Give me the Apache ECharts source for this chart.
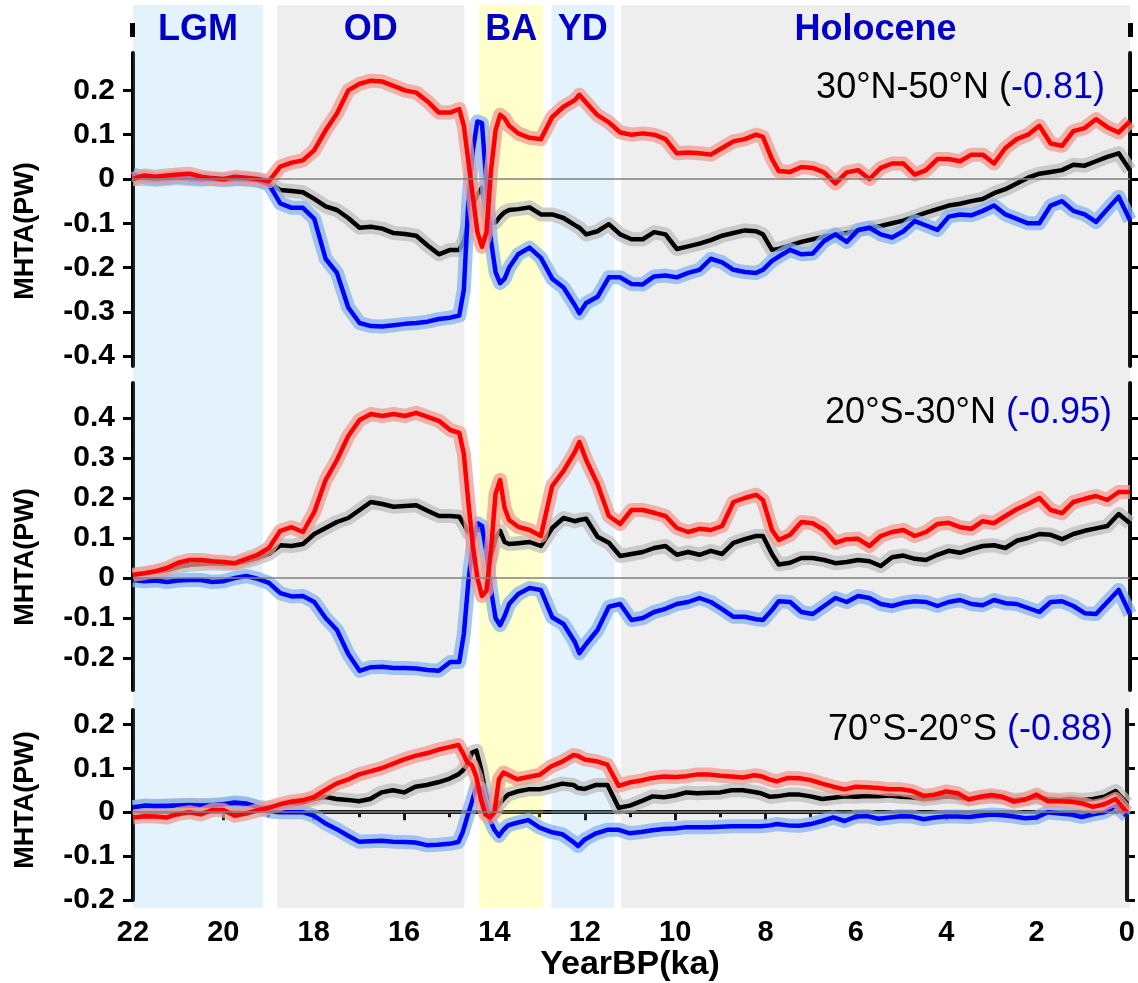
<!DOCTYPE html>
<html>
<head>
<meta charset="utf-8">
<script src="https://cdn.jsdelivr.net/npm/echarts@6/dist/echarts.min.js"></script>
<style>
  html, body { margin: 0; padding: 0; background: #fff; }
  #chart { width: 1138px; height: 983px; }
</style>
</head>
<body>
<div id="chart"></div>
<script>
// ages (ka BP), shared by every curve
var ages = [
  22, 21.75, 21.5, 21.25, 21, 20.75, 20.5, 20.25, 20, 19.75,
  19.5, 19.25, 19, 18.75, 18.5, 18.25, 18, 17.75, 17.5, 17.25,
  17, 16.75, 16.5, 16.25, 16, 15.75, 15.5, 15.25, 15, 14.8,
  14.7, 14.6, 14.5, 14.4, 14.3, 14.2, 14.1, 14, 13.9, 13.8,
  13.7, 13.5, 13.25, 13, 12.75, 12.5, 12.25, 12.15, 12, 11.75, 11.5,
  11.25, 11, 10.75, 10.5, 10.25, 10, 9.75, 9.5, 9.25, 9,
  8.75, 8.5, 8.25, 8.1, 7.9, 7.75, 7.5, 7.25, 7, 6.75,
  6.5, 6.25, 6, 5.75, 5.5, 5.25, 5, 4.75, 4.5, 4.25,
  4, 3.75, 3.5, 3.25, 3, 2.75, 2.5, 2.25, 2, 1.75,
  1.5, 1.25, 1, 0.75, 0.5, 0.25, 0
];

// 30N-50N
var p1Red = [
  0.0, 0.008, 0.005, 0.008, 0.01, 0.012, 0.005, 0.002, 0.0, 0.005,
  0.003, 0.0, -0.005, 0.028, 0.037, 0.042, 0.065, 0.11, 0.148, 0.2,
  0.215, 0.222, 0.22, 0.21, 0.2, 0.195, 0.175, 0.15, 0.15, 0.158,
  0.12, 0.04, -0.04, -0.12, -0.153, -0.12, 0.02, 0.11, 0.145, 0.137,
  0.12, 0.103, 0.093, 0.09, 0.14, 0.163, 0.178, 0.19, 0.172, 0.144, 0.128,
  0.105, 0.1, 0.103, 0.1, 0.09, 0.058, 0.06, 0.058, 0.055, 0.07,
  0.085, 0.09, 0.1, 0.095, 0.045, 0.018, 0.016, 0.027, 0.025, 0.015,
  -0.01, 0.015, 0.02, 0.0, 0.025, 0.035, 0.035, 0.01, 0.02, 0.045,
  0.045, 0.04, 0.055, 0.055, 0.035, 0.07, 0.09, 0.1, 0.12, 0.08,
  0.075, 0.108, 0.115, 0.135, 0.117, 0.105, 0.13
];
var p1Black = [
  0.0, 0.0, -0.002, 0.0, 0.002, 0.0, -0.002, 0.0, -0.003, 0.0,
  -0.002, -0.004, -0.008, -0.025, -0.027, -0.03, -0.045, -0.062, -0.07, -0.088,
  -0.11, -0.108, -0.112, -0.122, -0.124, -0.128, -0.15, -0.17, -0.16, -0.16,
  -0.14, -0.1, -0.06, -0.035, -0.02, -0.075, -0.1, -0.098, -0.085, -0.075,
  -0.07, -0.068, -0.064, -0.08, -0.08, -0.088, -0.104, -0.11, -0.125, -0.118, -0.102,
  -0.125, -0.136, -0.136, -0.12, -0.125, -0.158, -0.152, -0.146, -0.138, -0.128,
  -0.122, -0.116, -0.118, -0.125, -0.16, -0.158, -0.15, -0.142, -0.136, -0.13,
  -0.126, -0.122, -0.116, -0.11, -0.106, -0.1, -0.094, -0.085, -0.076, -0.068,
  -0.06, -0.056, -0.05, -0.045, -0.032, -0.023, -0.01, 0.003, 0.012, 0.016,
  0.02, 0.032, 0.03, 0.04, 0.05, 0.058, 0.02
];
var p1Blue = [
  0.01, 0.004, 0.0, 0.002, 0.005, 0.002, 0.0, 0.0, -0.002, 0.0,
  0.0, -0.003, -0.012, -0.055, -0.065, -0.065, -0.09, -0.18, -0.212, -0.29,
  -0.325, -0.332, -0.333, -0.33, -0.327, -0.325, -0.322, -0.316, -0.313, -0.308,
  -0.25, -0.05, 0.065, 0.13, 0.126, -0.01, -0.14, -0.21, -0.235, -0.225,
  -0.2, -0.17, -0.155, -0.178, -0.225, -0.245, -0.285, -0.303, -0.28, -0.266, -0.222,
  -0.222, -0.237, -0.238, -0.22, -0.218, -0.222, -0.212, -0.205, -0.18, -0.188,
  -0.205, -0.21, -0.212, -0.205, -0.185, -0.175, -0.16, -0.17, -0.168, -0.14,
  -0.125, -0.142, -0.115, -0.11, -0.125, -0.132, -0.118, -0.095, -0.105, -0.115,
  -0.085, -0.08, -0.082, -0.072, -0.06, -0.08, -0.09, -0.1, -0.1, -0.06,
  -0.05, -0.072, -0.08, -0.097, -0.068, -0.04, -0.093
];

// 20S-30N
var p2Red = [
  0.008, 0.012, 0.017, 0.025, 0.038, 0.045, 0.045, 0.042, 0.04, 0.037,
  0.048, 0.058, 0.075, 0.118, 0.127, 0.115, 0.165, 0.245, 0.295, 0.355,
  0.395, 0.41, 0.405, 0.41, 0.405, 0.413, 0.403, 0.393, 0.37, 0.363,
  0.31, 0.19, 0.08, 0.0, -0.045, -0.032, 0.07, 0.21, 0.245, 0.175,
  0.145, 0.128, 0.12, 0.105, 0.23, 0.268, 0.315, 0.34, 0.295, 0.235, 0.155,
  0.135, 0.17, 0.17, 0.163, 0.155, 0.125, 0.115, 0.123, 0.12, 0.13,
  0.19, 0.2, 0.208, 0.195, 0.12, 0.095, 0.108, 0.14, 0.137, 0.12,
  0.088, 0.097, 0.098, 0.08, 0.105, 0.115, 0.12, 0.105, 0.115, 0.135,
  0.138, 0.127, 0.123, 0.142, 0.137, 0.155, 0.172, 0.185, 0.2, 0.17,
  0.162, 0.19, 0.198, 0.205, 0.195, 0.215, 0.215
];
var p2Black = [
  0.005, 0.01, 0.015, 0.02, 0.028, 0.033, 0.035, 0.037, 0.035, 0.036,
  0.042, 0.05, 0.06, 0.082, 0.08, 0.085, 0.11, 0.125, 0.14, 0.15,
  0.17, 0.19, 0.185, 0.178, 0.18, 0.182, 0.168, 0.155, 0.155, 0.153,
  0.135, 0.113, 0.115, 0.12, 0.12, 0.09, 0.05, 0.1, 0.118, 0.09,
  0.085, 0.087, 0.09, 0.08, 0.125, 0.15, 0.142, 0.145, 0.148, 0.103, 0.088,
  0.055, 0.06, 0.065, 0.075, 0.08, 0.058, 0.065, 0.058, 0.068, 0.06,
  0.088, 0.097, 0.105, 0.105, 0.06, 0.034, 0.038, 0.05, 0.05, 0.045,
  0.037, 0.04, 0.045, 0.042, 0.03, 0.052, 0.056, 0.048, 0.045, 0.058,
  0.068, 0.063, 0.072, 0.08, 0.082, 0.075, 0.093, 0.1, 0.11, 0.108,
  0.097, 0.11, 0.118, 0.124, 0.13, 0.16, 0.137
];
var p2Blue = [
  -0.005, -0.008, -0.006, -0.01, -0.006, -0.005, -0.005, -0.01, -0.008, 0.0,
  0.005, -0.002, -0.012, -0.038, -0.046, -0.045, -0.06, -0.1, -0.13, -0.19,
  -0.232, -0.223, -0.222, -0.225, -0.225, -0.226, -0.23, -0.232, -0.21, -0.21,
  -0.14, -0.01, 0.09, 0.137, 0.13, 0.065, -0.03, -0.1, -0.118, -0.095,
  -0.065, -0.04, -0.025, -0.03, -0.098, -0.115, -0.16, -0.188, -0.165, -0.13, -0.072,
  -0.065, -0.105, -0.1, -0.085, -0.077, -0.065, -0.06, -0.05, -0.06, -0.078,
  -0.097, -0.097, -0.103, -0.105, -0.08, -0.058, -0.06, -0.085, -0.09, -0.07,
  -0.05, -0.06, -0.045, -0.05, -0.065, -0.07, -0.062, -0.058, -0.06, -0.07,
  -0.06, -0.055, -0.065, -0.068, -0.055, -0.063, -0.065, -0.075, -0.085, -0.06,
  -0.058, -0.07, -0.088, -0.09, -0.06, -0.03, -0.09
];

// 70S-20S
var p3Red = [
  -0.012, -0.009, -0.01, -0.012, -0.004, 0.0, -0.005, 0.005, 0.005, -0.008,
  -0.003, 0.004, 0.01, 0.018, 0.024, 0.027, 0.034, 0.05, 0.065, 0.074,
  0.086, 0.093, 0.1, 0.11, 0.12, 0.128, 0.134, 0.142, 0.148, 0.153,
  0.135, 0.113, 0.107, 0.08, 0.03, -0.005, -0.012, 0.0, 0.075, 0.09,
  0.085, 0.075, 0.08, 0.085, 0.104, 0.115, 0.13, 0.128, 0.12, 0.116, 0.108,
  0.06, 0.068, 0.072, 0.078, 0.081, 0.08, 0.082, 0.086, 0.086, 0.083,
  0.081, 0.079, 0.084, 0.082, 0.074, 0.07, 0.078, 0.077, 0.073, 0.065,
  0.058, 0.052, 0.058, 0.057, 0.055, 0.052, 0.052, 0.048, 0.037, 0.04,
  0.047, 0.043, 0.029, 0.035, 0.039, 0.035, 0.024, 0.029, 0.04, 0.025,
  0.025, 0.024, 0.02, 0.012, 0.018, 0.03, 0.0
];
var p3Black = [
  0.012, 0.014, 0.014, 0.015, 0.016, 0.017, 0.016, 0.017, 0.018, 0.02,
  0.018, 0.012, 0.01, 0.012, 0.016, 0.022, 0.03, 0.035, 0.03, 0.028,
  0.025, 0.03, 0.045, 0.05, 0.045, 0.058, 0.062, 0.068, 0.076, 0.086,
  0.095, 0.108, 0.135, 0.14, 0.1, 0.045, 0.01, 0.0, 0.018, 0.03,
  0.04, 0.047, 0.052, 0.052, 0.058, 0.065, 0.062, 0.055, 0.053, 0.062, 0.062,
  0.01, 0.015, 0.025, 0.036, 0.034, 0.038, 0.045, 0.043, 0.044, 0.045,
  0.05, 0.05, 0.046, 0.043, 0.035, 0.036, 0.04, 0.04, 0.036, 0.03,
  0.033, 0.036, 0.035, 0.037, 0.036, 0.038, 0.035, 0.034, 0.03, 0.032,
  0.036, 0.034, 0.03, 0.033, 0.035, 0.033, 0.028, 0.03, 0.034, 0.03,
  0.028, 0.03, 0.028, 0.03, 0.035, 0.048, 0.02
];
var p3Blue = [
  0.011, 0.015, 0.014, 0.014, 0.015, 0.016, 0.015, 0.015, 0.018, 0.022,
  0.02, 0.012, 0.002, 0.0, 0.0, 0.0, -0.008, -0.025, -0.038, -0.053,
  -0.067, -0.066, -0.065, -0.067, -0.068, -0.069, -0.075, -0.074, -0.072, -0.068,
  -0.045, -0.01, 0.023, 0.058, 0.054, 0.02, -0.018, -0.04, -0.054, -0.04,
  -0.03, -0.024, -0.018, -0.035, -0.045, -0.05, -0.068, -0.077, -0.062, -0.048, -0.04,
  -0.04, -0.048, -0.045, -0.041, -0.038, -0.037, -0.034, -0.034, -0.034, -0.033,
  -0.032, -0.032, -0.032, -0.032, -0.03, -0.027, -0.03, -0.031, -0.027, -0.02,
  -0.012, -0.02, -0.01, -0.009, -0.015, -0.012, -0.009, -0.01, -0.016, -0.012,
  -0.01, -0.01, -0.011, -0.008, -0.005, -0.007, -0.01, -0.014, -0.012, 0.0,
  -0.003, -0.005, -0.011, -0.005, 0.0, 0.014, -0.009
];

// climate periods
var bandNames = ['LGM', 'OD', 'BA', 'YD', 'Holocene'];
var bandFrom = [22, 18.82, 14.36, 12.77, 11.23];
var bandTo = [19.13, 14.69, 12.95, 11.38, 0];

// panel titles and correlations
var regionNames = ['30°N-50°N', '20°S-30°N', '70°S-20°S'];
var corrValues = ['-0.81', '-0.95', '-0.88'];

// y ticks per panel
var p1Ticks = [-0.4, -0.3, -0.2, -0.1, 0, 0.1, 0.2];
var p2Ticks = [-0.2, -0.1, 0, 0.1, 0.2, 0.3, 0.4];
var p3Ticks = [-0.2, -0.1, 0, 0.1, 0.2];

var FONT = '"Liberation Sans", Arial, Helvetica, sans-serif';

var chart = echarts.init(document.getElementById('chart'), null, { renderer: 'canvas' });

function pts(arr) {
    return ages.map(function (a, i) { return [a, arr[i]]; });
}

var bandColors = ['rgba(120,190,240,0.2)', 'rgba(150,150,150,0.16)', 'rgba(255,255,0,0.2)',
                  'rgba(120,190,240,0.2)', 'rgba(150,150,150,0.16)'];

var panels = [
    { red: p1Red, black: p1Black, blue: p1Blue, ticks: p1Ticks, min: -0.4221, max: 0.2844, top: 53, height: 313 },
    { red: p2Red, black: p2Black, blue: p2Blue, ticks: p2Ticks, min: -0.28, max: 0.4875, top: 383, height: 307 },
    { red: p3Red, black: p3Black, blue: p3Blue, ticks: p3Ticks, min: -0.2, max: 0.2325, top: 710, height: 192 }
];

var grids = [{ left: 133, right: 8, top: 5, bottom: 75 }];
var xAxes = [{ gridIndex: 0, type: 'value', min: 0, max: 22, inverse: true, show: false }];
var yAxes = [{ gridIndex: 0, type: 'value', min: 0, max: 1, show: false }];
var series = [];

panels.forEach(function (p, k) {
    var g = k + 1;
    grids.push({ left: 133, right: 8, top: p.top, height: p.height });
    var last = (k === 2);
    xAxes.push({
        gridIndex: g, type: 'value', min: 0, max: 22, inverse: true, interval: 2,
        show: last,
        axisLine: { show: last, lineStyle: { color: '#000', width: 4 } },
        axisTick: { show: last, length: 8, lineStyle: { color: '#000', width: 3 } },
        minorTick: { show: last, splitNumber: 2, length: 5, lineStyle: { color: '#000', width: 3 } },
        axisLabel: { show: last, margin: 18, color: '#000', fontSize: 29, fontWeight: 'bold', fontFamily: FONT },
        splitLine: { show: false },
        name: last ? 'YearBP(ka)' : '',
        nameLocation: 'middle', nameGap: 47,
        nameTextStyle: { color: '#000', fontSize: 34, fontWeight: 'bold', fontFamily: FONT }
    });
    yAxes.push({
        gridIndex: g, type: 'value', position: 'left', min: p.min, max: p.max,
        axisLine: { show: true, onZero: false, lineStyle: { color: '#000', width: 4 } },
        axisTick: { show: true, length: 10, customValues: p.ticks, lineStyle: { color: '#000', width: 3 } },
        axisLabel: {
            show: true, customValues: p.ticks, margin: 18, color: '#000',
            fontSize: 30, fontWeight: 'bold', fontFamily: FONT,
            formatter: function (v) { return v === 0 ? '0' : String(v); }
        },
        splitLine: { show: false }
    });
    yAxes.push({
        gridIndex: g, type: 'value', position: 'right', min: p.min, max: p.max,
        axisLine: { show: true, onZero: false, lineStyle: { color: '#000', width: 4 } },
        axisTick: { show: true, length: 8, customValues: p.ticks, lineStyle: { color: '#000', width: 3 } },
        axisLabel: { show: false },
        splitLine: { show: false }
    });
    var yi = 2 * k + 1;
    function line(name, data, color, width, opacity, extra) {
        var s = {
            name: name, type: 'line', xAxisIndex: g, yAxisIndex: yi,
            data: pts(data), showSymbol: false, symbol: 'none', silent: true, z: 2,
            lineStyle: { color: color, width: width, opacity: opacity, join: 'round' }
        };
        if (extra) { for (var key in extra) s[key] = extra[key]; }
        series.push(s);
    }
    // raw (unsmoothed) traces are shown as a light halo under each curve
    line('black raw', p.black, '#bdbdbd', 14, 0.75, {
        markLine: {
            silent: true, symbol: 'none', label: { show: false },
            lineStyle: { color: '#808080', width: 1.5, type: 'solid' },
            data: [{ yAxis: 0 }]
        }
    });
    line('black', p.black, '#000000', 4.5, 1);
    line('blue raw', p.blue, '#86b3f0', 14, 0.75);
    line('blue', p.blue, '#0000ff', 4.5, 1);
    line('red raw', p.red, '#f29a90', 14, 0.75);
    line('red', p.red, '#ff0000', 4.5, 1);
});

// period bands on top of everything, semi-transparent
series.push({
    type: 'line', xAxisIndex: 0, yAxisIndex: 0, data: [], z: 10, silent: true,
    markArea: {
        silent: true,
        label: {
            show: true, position: 'insideTop', distance: 7,
            color: '#0000c8', fontSize: 36, fontWeight: 'bold', fontFamily: FONT
        },
        data: bandNames.map(function (n, i) {
            return [{ name: n, xAxis: bandFrom[i], itemStyle: { color: bandColors[i] } }, { xAxis: bandTo[i] }];
        })
    }
});

var titleRight = [33, 26, 25];
var titleMid = [88, 413, 730];
var titles = regionNames.map(function (r, i) {
    var txt = i === 0 ? '{k|' + r + ' (}{b|' + corrValues[i] + ')}' : '{k|' + r + ' }{b|(' + corrValues[i] + ')}';
    return {
        text: txt, right: titleRight[i], top: titleMid[i] - 20, padding: 0, z: 20,
        textStyle: {
            fontWeight: 'normal',
            rich: {
                k: { color: '#000', fontSize: 36, fontWeight: 'normal', fontFamily: FONT, lineHeight: 40 },
                b: { color: '#0000c8', fontSize: 36, fontWeight: 'normal', fontFamily: FONT, lineHeight: 40 }
            }
        }
    };
});

var nameMid = [231, 557, 800];
var graphics = nameMid.map(function (y) {
    return {
        type: 'text', x: 26, y: y, rotation: Math.PI / 2, z: 20,
        style: { text: 'MHTA(PW)', fill: '#000', font: 'bold 27px ' + FONT, align: 'center', verticalAlign: 'middle' }
    };
});
graphics.push({ type: 'rect', shape: { x: 130, y: 23, width: 5, height: 14 }, style: { fill: '#000' }, z: 20 });
graphics.push({ type: 'rect', shape: { x: 1128, y: 23, width: 5, height: 14 }, style: { fill: '#000' }, z: 20 });

var option = {
    animation: false,
    backgroundColor: '#ffffff',
    title: titles,
    grid: grids,
    xAxis: xAxes,
    yAxis: yAxes,
    series: series,
    graphic: graphics
};
chart.setOption(option);
window.addEventListener('resize', chart.resize);
</script>
</body>
</html>
